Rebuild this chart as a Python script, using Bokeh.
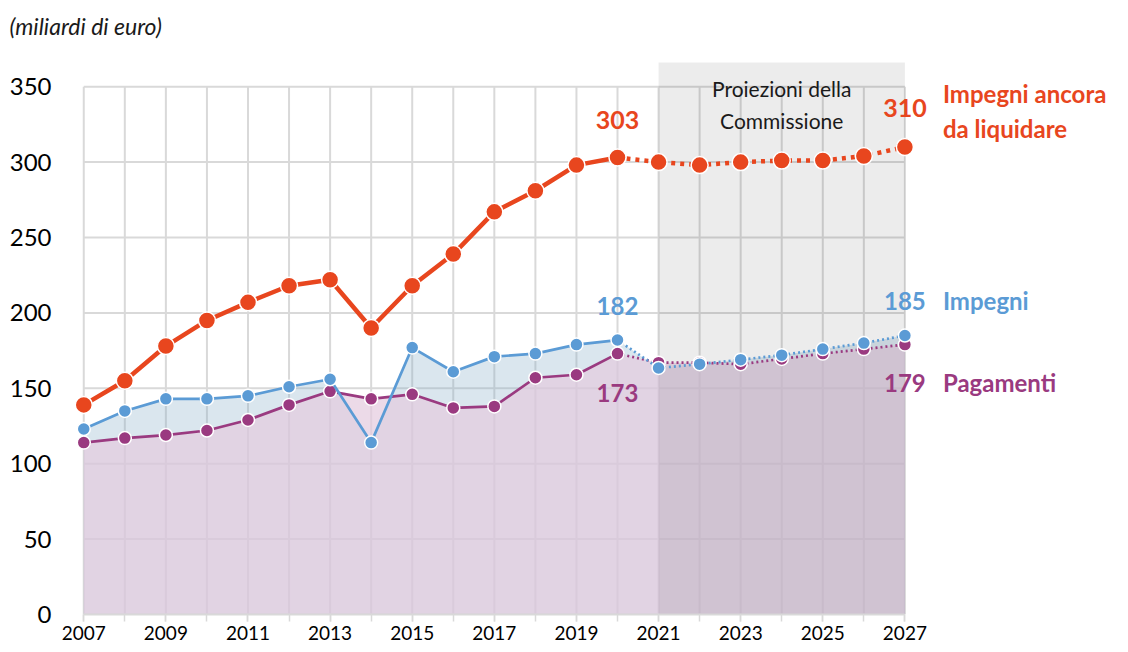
from bokeh.plotting import figure
from bokeh.models import Label, FixedTicker, Range1d
from bokeh.embed import file_html
from bokeh.resources import INLINE

# ---------------- data ----------------
years = list(range(2007, 2028))
impegni_da_liquidare = [139, 155, 178, 195, 207, 218, 222, 190, 218, 239, 267,
                        281, 298, 303, 300, 298, 300, 301, 301, 304, 310]
impegni = [123, 135, 143, 143, 145, 151, 156, 114, 177, 161, 171,
           173, 179, 182, 163.5, 166, 169, 172, 176, 180, 185]
pagamenti = [114, 117, 119, 122, 129, 139, 148, 143, 146, 137, 138,
             157, 159, 173, 167, 167, 166, 169.5, 173, 176, 179]
y_ticks = [0, 50, 100, 150, 200, 250, 300, 350]
x_label_years = years[::2]
last_actual_year = 2020
projection_start = 2021
band_top = 366

ORANGE = "#E8461E"
BLUE = "#5B9BD5"
PURPLE = "#9A3A80"
GRID = "#d9d9d9"
FONT = "Lato"

split = years.index(last_actual_year)

# frame spans the whole right part so the side labels are not clipped
p = figure(width=1126, height=651,
           x_range=Range1d(2006.75, 2032.30),
           y_range=Range1d(0, 376),
           output_backend="svg", toolbar_location=None,
           min_border_left=73, min_border_right=4,
           min_border_top=47, min_border_bottom=37)
p.outline_line_color = None
p.xgrid.visible = False
p.ygrid.visible = False

p.title.text = "(miliardi di euro)"
p.title.align = "left"
p.title.offset = -64
p.title.standoff = 16
p.title.text_font = FONT
p.title.text_font_style = "italic"
p.title.text_font_size = "23px"
p.title.text_color = "#1a1a1a"

# axes
p.xaxis.ticker = FixedTicker(ticks=x_label_years, minor_ticks=years)
p.xaxis.bounds = (years[0], years[-1])
p.xaxis.axis_line_color = GRID
p.xaxis.axis_line_width = 2
p.xaxis.major_tick_in = 0
p.xaxis.major_tick_out = 7
p.xaxis.minor_tick_in = 0
p.xaxis.minor_tick_out = 7
p.xaxis.major_tick_line_color = GRID
p.xaxis.minor_tick_line_color = GRID
p.xaxis.major_tick_line_width = 1.5
p.xaxis.minor_tick_line_width = 1.5
p.xaxis.major_label_text_font = FONT
p.xaxis.major_label_text_font_size = "19px"
p.xaxis.major_label_text_color = "#000000"
p.xaxis.major_label_standoff = 4

p.yaxis.ticker = FixedTicker(ticks=y_ticks)
p.yaxis.axis_line_color = None
p.yaxis.major_tick_line_color = None
p.yaxis.minor_tick_line_color = None
p.yaxis.major_label_standoff = 16
p.yaxis.major_label_text_font = FONT
p.yaxis.major_label_text_font_size = "24px"
p.yaxis.major_label_text_color = "#000000"

# grid lines (limited to data extent)
p.segment(x0=years, y0=[y_ticks[0]] * len(years), x1=years,
          y1=[y_ticks[-1]] * len(years), line_color=GRID, line_width=2)
p.segment(x0=[years[0]] * len(y_ticks), y0=y_ticks,
          x1=[years[-1]] * len(y_ticks), y1=y_ticks,
          line_color=GRID, line_width=2)

# areas
p.varea(x=years, y1=0, y2=impegni, fill_color=(132, 172, 198), fill_alpha=0.3)
p.varea(x=years, y1=0, y2=pagamenti, fill_color=(228, 202, 222), fill_alpha=0.7)

# projection band
p.quad(left=projection_start, right=years[-1], bottom=0, top=band_top,
       fill_color="black", fill_alpha=0.075, line_color=None)

# lines + markers
series = [
    (pagamenti, PURPLE, 2.7, "2 3", 13),
    (impegni, BLUE, 2.7, "2 3", 13),
    (impegni_da_liquidare, ORANGE, 4.5, "4 5", 17),
]
for vals, col, lw, dash, size in series:
    p.line(years[:split + 1], vals[:split + 1], line_color=col, line_width=lw)
    p.line(years[split:], vals[split:], line_color=col, line_width=lw,
           line_dash=dash)
    p.scatter(years, vals, size=size, fill_color=col, line_color="white",
              line_width=1.5)


def lab(x, y, text, color, size, dx=0, dy=0, align="center", style="bold"):
    p.add_layout(Label(x=x, y=y, text=text, x_offset=dx, y_offset=dy,
                       text_color=color, text_font=FONT,
                       text_font_size=size, text_font_style=style,
                       text_align=align, text_baseline="middle"))


i20 = split
lab(years[i20], impegni_da_liquidare[i20], "303", ORANGE, "25px", dy=38)
lab(years[-1], impegni_da_liquidare[-1], "310", ORANGE, "25px", dy=39)
lab(years[-1], impegni_da_liquidare[-1], "Impegni ancora", ORANGE, "24px",
    dx=38, dy=54, align="left")
lab(years[-1], impegni_da_liquidare[-1], "da liquidare", ORANGE, "24px",
    dx=38, dy=19, align="left")
lab(years[i20], impegni[i20], "182", BLUE, "24px", dy=34)
lab(years[i20], pagamenti[i20], "173", PURPLE, "24px", dy=-39)
lab(years[-1], impegni[-1], "185", BLUE, "24px", dy=35)
lab(years[-1], impegni[-1], "Impegni", BLUE, "24px", dx=38, dy=35, align="left")
lab(years[-1], pagamenti[-1], "179", PURPLE, "24px", dy=-38)
lab(years[-1], pagamenti[-1], "Pagamenti", PURPLE, "24px", dx=38, dy=-38,
    align="left")

mid = (projection_start + years[-1]) / 2
lab(mid, band_top, "Proiezioni della", "#1a1a1a", "21px", dy=-26, style="normal")
lab(mid, band_top, "Commissione", "#1a1a1a", "21px", dy=-58, style="normal")

open("out.html", "w").write(file_html(p, INLINE))
